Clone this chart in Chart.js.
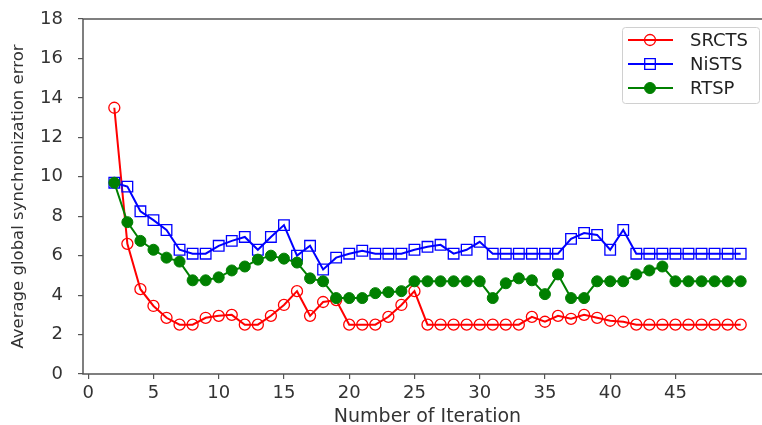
<!DOCTYPE html>
<html>
<head>
<meta charset="utf-8">
<script src="https://cdn.jsdelivr.net/npm/chart.js@4.4.0/dist/chart.umd.min.js"></script>
<style>
html, body { margin: 0; padding: 0; background: #fff; overflow: hidden; }
#wrap { width: 762px; height: 425px; overflow: hidden; }
</style>
</head>
<body>
<div id="wrap"><canvas id="chart" width="790" height="425"></canvas></div>
<script>
// iterations 2..50
var iterations = [2, 3, 4, 5, 6, 7, 8, 9, 10, 11, 12, 13, 14, 15, 16, 17, 18, 19, 20, 21, 22, 23, 24, 25,
    26, 27, 28, 29, 30, 31, 32, 33, 34, 35, 36, 37, 38, 39, 40, 41, 42, 43, 44, 45, 46, 47, 48, 49, 50];

var srcts = [13.5, 6.6, 4.3, 3.45, 2.85, 2.5, 2.5, 2.85, 2.95, 3.0, 2.5, 2.5, 2.95, 3.5, 4.2, 2.95, 3.65, 3.75, 2.5, 2.5, 2.5, 2.9, 3.5, 4.2,
    2.5, 2.5, 2.5, 2.5, 2.5, 2.5, 2.5, 2.5, 2.9, 2.65, 2.95, 2.8, 3.0, 2.85, 2.7, 2.65,
    2.5, 2.5, 2.5, 2.5, 2.5, 2.5, 2.5, 2.5, 2.5];

var nists = [9.7, 9.5, 8.25, 7.8, 7.3, 6.3, 6.1, 6.1, 6.5, 6.75, 6.95, 6.3, 6.95, 7.55, 6.0, 6.5, 5.3, 5.9, 6.1, 6.25, 6.1, 6.1, 6.1, 6.3,
    6.45, 6.55, 6.1, 6.3, 6.7, 6.1, 6.1, 6.1, 6.1, 6.1, 6.1, 6.85, 7.15, 7.05, 6.3, 7.3,
    6.1, 6.1, 6.1, 6.1, 6.1, 6.1, 6.1, 6.1, 6.1];

var rtsp = [9.7, 7.7, 6.75, 6.3, 5.9, 5.7, 4.75, 4.75, 4.9, 5.25, 5.45, 5.8, 6.0, 5.85, 5.65, 4.85, 4.7, 3.85, 3.85, 3.85, 4.1, 4.15, 4.2, 4.7,
    4.7, 4.7, 4.7, 4.7, 4.7, 3.85, 4.6, 4.85, 4.75, 4.05, 5.05, 3.85, 3.85, 4.7, 4.7, 4.7,
    5.05, 5.25, 5.45, 4.7, 4.7, 4.7, 4.7, 4.7, 4.7];

var xTicks = [0, 5, 10, 15, 20, 25, 30, 35, 40, 45];
var yTicks = [0, 2, 4, 6, 8, 10, 12, 14, 16, 18];

function pts(arr) {
    return iterations.map(function(x, i) { return {x: x, y: arr[i]}; });
}

var FONT = "'DejaVu Sans', sans-serif";

// box round the plot, like matplotlib
var framePlugin = {
    id: "frame",
    afterDraw: function(chart) {
        var a = chart.chartArea, ctx = chart.ctx;
        ctx.save();
        ctx.strokeStyle = "#555";
        ctx.lineWidth = 1.5;
        ctx.strokeRect(a.left, a.top, a.right - a.left, a.bottom - a.top);
        ctx.restore();
    }
};

// legend in the upper right corner
var legendPlugin = {
    id: "boxLegend",
    afterDraw: function(chart) {
        var ctx = chart.ctx;
        var bx = 622, by = 27, bw = 137, bh = 76;
        ctx.save();
        ctx.fillStyle = "rgba(255,255,255,0.9)";
        ctx.strokeStyle = "#d0d0d0";
        ctx.lineWidth = 1;
        ctx.beginPath();
        ctx.roundRect(bx + 0.5, by + 0.5, bw, bh, 3);
        ctx.fill();
        ctx.stroke();
        chart.data.datasets.forEach(function(ds, i) {
            var y = by + 13 + i * 24;
            ctx.strokeStyle = ds.borderColor;
            ctx.lineWidth = ds.borderWidth;
            ctx.beginPath();
            ctx.moveTo(628, y);
            ctx.lineTo(673, y);
            ctx.stroke();
            ctx.fillStyle = ds.pointBackgroundColor;
            ctx.strokeStyle = ds.pointBorderColor;
            ctx.lineWidth = ds.pointBorderWidth;
            Chart.helpers.drawPoint(ctx, {
                pointStyle: ds.pointStyle,
                radius: ds.pointRadius,
                borderWidth: ds.pointBorderWidth
            }, 650, y);
            ctx.fillStyle = "#222";
            ctx.font = "18px " + FONT;
            ctx.textBaseline = "middle";
            ctx.fillText(ds.label, 690, y + 1);
        });
        ctx.restore();
    }
};

var ctx = document.getElementById("chart").getContext("2d");
new Chart(ctx, {
    type: "line",
    data: {
        datasets: [
            {
                label: "SRCTS", data: pts(srcts), order: 3,
                borderColor: "#ff0000", borderWidth: 2,
                pointStyle: "circle", pointRadius: 5.5, pointBorderWidth: 1.3,
                pointBackgroundColor: "rgba(0,0,0,0)", pointBorderColor: "#ff0000"
            },
            {
                label: "NiSTS", data: pts(nists), order: 2,
                borderColor: "#0000ff", borderWidth: 2,
                pointStyle: "rect", pointRadius: 7.5, pointBorderWidth: 1.3,
                pointBackgroundColor: "rgba(0,0,0,0)", pointBorderColor: "#0000ff"
            },
            {
                label: "RTSP", data: pts(rtsp), order: 1,
                borderColor: "#008000", borderWidth: 2,
                pointStyle: "circle", pointRadius: 5.5, pointBorderWidth: 1,
                pointBackgroundColor: "#008000", pointBorderColor: "#008000"
            }
        ]
    },
    options: {
        responsive: false,
        animation: false,
        layout: { padding: { left: 0, top: 19, right: 18, bottom: 0 } },
        plugins: { legend: { display: false }, tooltip: { enabled: false } },
        elements: { line: { tension: 0 } },
        scales: {
            x: {
                type: "linear",
                min: -0.4,
                max: 52.4,
                afterBuildTicks: function(s) { s.ticks = xTicks.map(function(v) { return {value: v}; }); },
                afterFit: function(s) { s.height = 51; s.paddingLeft = 0; s.paddingRight = 0; },
                ticks: { font: { family: FONT, size: 18 }, color: "#333", padding: 4, maxRotation: 0 },
                grid: { drawOnChartArea: false, tickLength: 5, color: "#555", lineWidth: 1.2 },
                border: { display: false },
                title: {
                    display: true, text: "Number of Iteration", color: "#333",
                    font: { family: FONT, size: 19 }, padding: { top: 0, bottom: -3 }
                }
            },
            y: {
                min: 0,
                max: 18,
                afterBuildTicks: function(s) { s.ticks = yTicks.map(function(v) { return {value: v}; }); },
                afterFit: function(s) { s.width = 83; s.paddingTop = 0; s.paddingBottom = 0; },
                ticks: { font: { family: FONT, size: 18 }, color: "#333", padding: 15 },
                grid: { drawOnChartArea: false, tickLength: 5, color: "#555", lineWidth: 1.2 },
                border: { display: false },
                title: {
                    display: true, text: "Average global synchronization error", color: "#333",
                    font: { family: FONT, size: 16.5 }, padding: { top: 9, bottom: 0 }
                }
            }
        }
    },
    plugins: [framePlugin, legendPlugin]
});
</script>
</body>
</html>
